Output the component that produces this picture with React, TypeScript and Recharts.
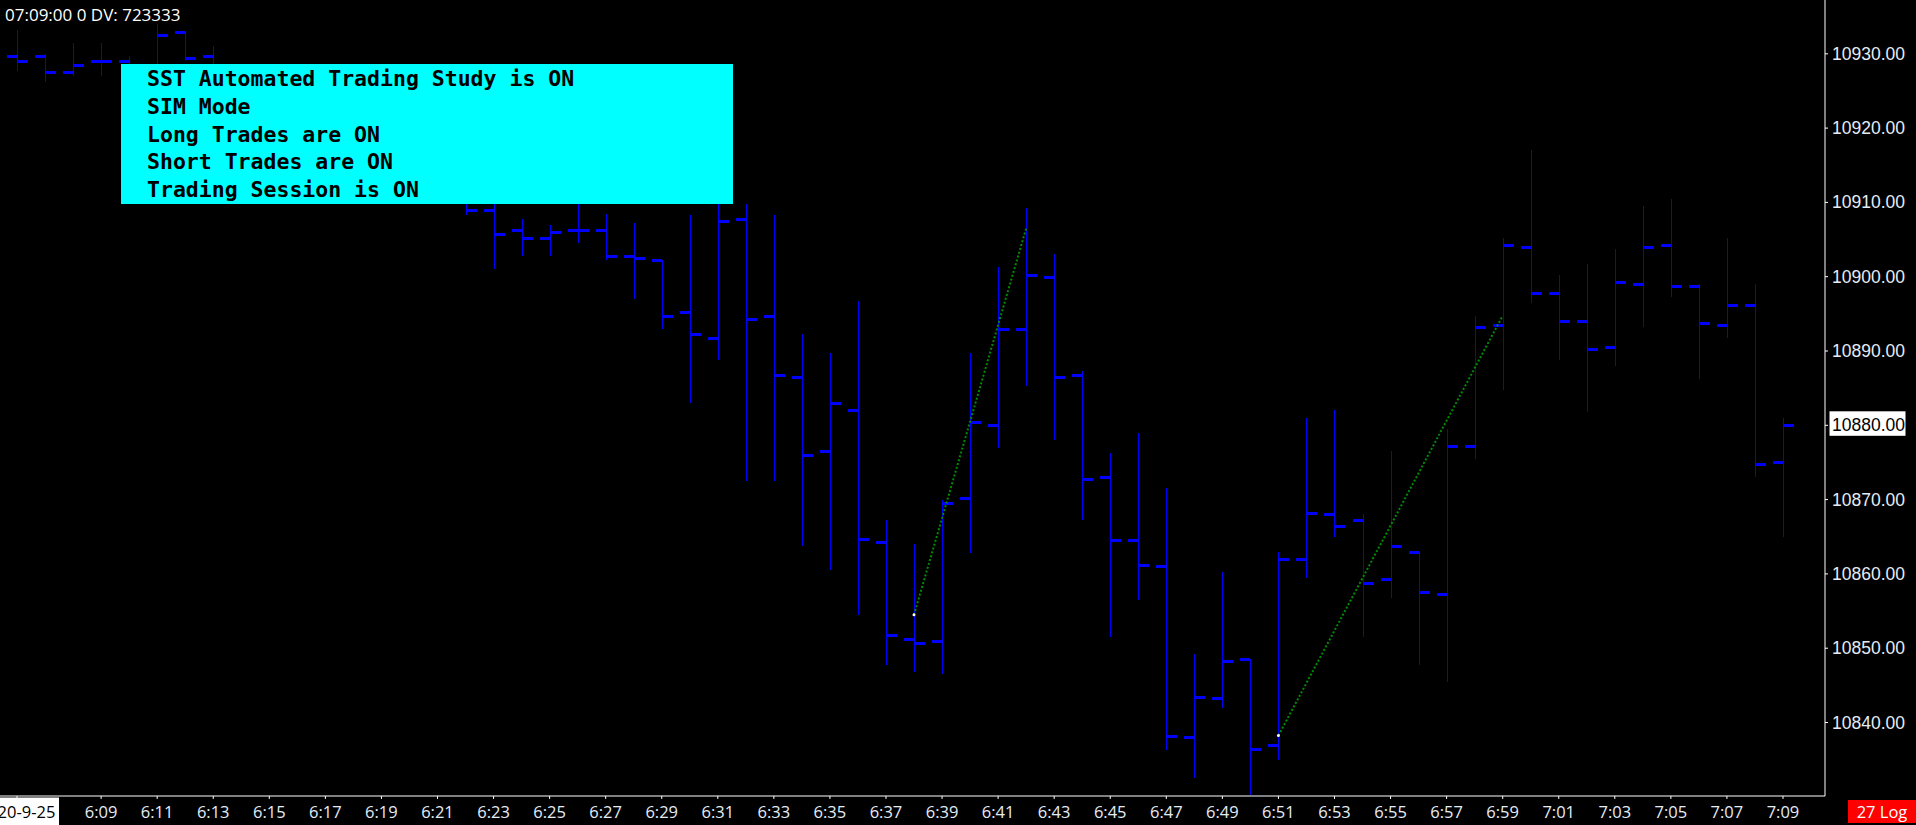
import { ComposedChart, Bar, XAxis, YAxis, ReferenceLine, ReferenceDot } from "recharts";

// 1-minute bars, 6:06 .. 7:09 (bars 6:14-6:21 sit behind the status box)
const times = [
  "6:06", "6:07", "6:08", "6:09", "6:10", "6:11", "6:12", "6:13", "6:14", "6:15",
  "6:16", "6:17", "6:18", "6:19", "6:20", "6:21", "6:22", "6:23", "6:24", "6:25",
  "6:26", "6:27", "6:28", "6:29", "6:30", "6:31", "6:32", "6:33", "6:34", "6:35",
  "6:36", "6:37", "6:38", "6:39", "6:40", "6:41", "6:42", "6:43", "6:44", "6:45",
  "6:46", "6:47", "6:48", "6:49", "6:50", "6:51", "6:52", "6:53", "6:54", "6:55",
  "6:56", "6:57", "6:58", "6:59", "7:00", "7:01", "7:02", "7:03", "7:04", "7:05",
  "7:06", "7:07", "7:08", "7:09",
];

const opens = [
  10929.75, 10929.75, 10927.5, 10929.0, 10929.0, 10927.5, 10933.0, 10929.75, 10925.5, 10923.0,
  10920.5, 10921.5, 10918.5, 10915.75, 10913.5, 10912.0, 10911.0, 10909.0, 10906.25, 10905.25,
  10906.25, 10906.25, 10902.75, 10902.25, 10895.25, 10891.75, 10907.75, 10894.75, 10886.5, 10876.5,
  10882.0, 10864.25, 10851.25, 10851.0, 10870.25, 10880.0, 10893.0, 10900.0, 10886.75, 10873.0,
  10864.5, 10861.0, 10838.0, 10843.25, 10848.5, 10837.0, 10862.0, 10868.0, 10867.25, 10859.25,
  10863.0, 10857.25, 10877.25, 10893.5, 10904.0, 10897.75, 10894.0, 10890.5, 10899.0, 10904.25,
  10898.75, 10893.5, 10896.25, 10875.0,
];

const highs = [
  10933.25, 10930.0, 10931.5, 10931.5, 10929.75, 10934.0, 10933.0, 10931.0, 10927.5, 10925.0,
  10923.0, 10924.0, 10920.5, 10918.0, 10916.0, 10914.5, 10912.0, 10910.5, 10907.75, 10907.0,
  10910.5, 10908.5, 10907.25, 10902.25, 10908.25, 10910.25, 10909.75, 10908.25, 10892.25, 10889.75,
  10896.75, 10867.25, 10864.0, 10870.0, 10889.75, 10901.25, 10909.25, 10903.0, 10887.25, 10876.25,
  10879.0, 10871.5, 10849.25, 10860.25, 10848.5, 10863.0, 10881.0, 10882.0, 10868.0, 10876.5,
  10863.0, 10879.5, 10894.75, 10905.25, 10917.0, 10900.25, 10901.75, 10903.75, 10909.5, 10910.5,
  10899.0, 10905.25, 10899.0, 10881.0,
];

const lows = [
  10927.75, 10926.25, 10927.0, 10927.0, 10926.5, 10927.0, 10929.0, 10924.5, 10922.0, 10919.5,
  10918.0, 10917.5, 10914.5, 10912.5, 10911.0, 10910.25, 10908.25, 10901.0, 10902.75, 10902.75,
  10904.5, 10902.25, 10897.0, 10893.0, 10883.0, 10888.75, 10872.5, 10872.5, 10863.75, 10860.5,
  10854.5, 10847.75, 10846.75, 10846.5, 10862.75, 10877.0, 10885.25, 10878.0, 10867.25, 10851.5,
  10856.5, 10836.25, 10832.5, 10842.0, 10830.25, 10835.0, 10859.5, 10865.0, 10851.5, 10856.75,
  10847.75, 10845.5, 10875.5, 10884.75, 10896.5, 10888.75, 10881.75, 10888.0, 10893.25, 10897.25,
  10886.25, 10891.75, 10873.0, 10865.0,
];

const closes = [
  10929.0, 10927.5, 10928.5, 10929.0, 10927.5, 10932.5, 10929.5, 10925.5, 10923.0, 10920.5,
  10921.5, 10918.5, 10915.75, 10913.5, 10912.0, 10911.0, 10909.0, 10905.75, 10905.25, 10906.0,
  10906.25, 10902.75, 10902.5, 10894.75, 10892.25, 10907.5, 10894.25, 10886.75, 10876.0, 10883.0,
  10864.75, 10851.75, 10850.75, 10869.5, 10880.5, 10893.0, 10900.25, 10886.5, 10872.75, 10864.5,
  10861.25, 10838.25, 10843.5, 10848.25, 10836.5, 10862.0, 10868.25, 10866.5, 10858.75, 10863.75,
  10857.5, 10877.25, 10893.25, 10904.25, 10897.75, 10894.0, 10890.25, 10899.25, 10904.0, 10898.75,
  10893.75, 10896.25, 10874.75, 10880.0,
];

const timeTicks = [
  "6:06", "6:09", "6:11", "6:13", "6:15", "6:17", "6:19", "6:21", "6:23", "6:25", "6:27",
  "6:29", "6:31", "6:33", "6:35", "6:37", "6:39", "6:41", "6:43", "6:45", "6:47", "6:49",
  "6:51", "6:53", "6:55", "6:57", "6:59", "7:01", "7:03", "7:05", "7:07", "7:09",
];
const dateLabel = "2020-9-25";
const priceTicks = [10840, 10850, 10860, 10870, 10880, 10890, 10900, 10910, 10920, 10930];
const lastPrice = 10880;

// trade lines (entry -> exit)
const longTrade1 = [{ x: "6:38", y: 10854.5 }, { x: "6:42", y: 10906.5 }];
const longTrade2 = [{ x: "6:51", y: 10838.25 }, { x: "6:59", y: 10894.75 }];

const statusLines = [
  "SST Automated Trading Study is ON",
  "SIM Mode",
  "Long Trades are ON",
  "Short Trades are ON",
  "Trading Session is ON",
];
const headerText = "07:09:00 0 DV: 723333";

const rows = times.map((t, i) => ({
  t,
  o: opens[i],
  h: highs[i],
  l: lows[i],
  c: closes[i],
  range: [lows[i], highs[i]],
}));

const BLUE = "#0000ff";
const LABEL = "#e4ecf6";

function OhlcBar(props: any) {
  const { x, y, width, height, payload } = props;
  if (x == null || y == null || !payload) return null;
  const top = Math.min(y, y + height);
  const h = Math.abs(height);
  const span = payload.h - payload.l;
  const toY = (v: number) => (span === 0 ? top : top + ((payload.h - v) / span) * h);
  const cx = Math.round(x + width / 2);
  const yo = Math.round(toY(payload.o));
  const yc = Math.round(toY(payload.c));
  return (
    <g shapeRendering="crispEdges">
      <rect x={cx} y={top} width={1} height={Math.max(h, 1)} fill={BLUE} />
      <rect x={cx - 10} y={yo - 1} width={10} height={3} fill={BLUE} />
      <rect x={cx} y={yc - 1} width={11} height={3} fill={BLUE} />
    </g>
  );
}

function TimeTick(props: any) {
  const { x, y, payload } = props;
  if (payload.value === times[0]) {
    return (
      <g>
        <rect x={x - 42} y={y - 1.5} width={84} height={28} fill="#ffffff" />
        <text x={x} y={y} dy={19} textAnchor="middle" fill="#000" fontSize={16.5} fontFamily="'Open Sans', sans-serif">
          {dateLabel}
        </text>
      </g>
    );
  }
  return (
    <text x={x} y={y} dy={19} textAnchor="middle" fill={LABEL} fontSize={16.5} fontFamily="'Open Sans', sans-serif">
      {payload.value}
    </text>
  );
}

function PriceTick(props: any) {
  const { x, y, payload } = props;
  const isLast = payload.value === lastPrice;
  return (
    <g>
      {isLast && <rect x={x - 2.5} y={y - 14} width={76} height={24.5} fill="#ffffff" />}
      <text x={x} y={y} dy={6} textAnchor="start" fill={isLast ? "#000" : LABEL} fontSize={17.5} fontFamily="'Liberation Sans', Arial, sans-serif">
        {payload.value.toFixed(2)}
      </text>
    </g>
  );
}

export default function App() {
  return (
    <div style={{ position: "fixed", left: 0, top: 0, width: 1916, height: 825, background: "#000", overflow: "hidden" }}>
      <ComposedChart width={1916} height={825} data={rows} margin={{ top: 0, right: 0, left: 0, bottom: 0 }}>
        <XAxis
          dataKey="t"
          type="category"
          ticks={timeTicks}
          interval={0}
          height={29}
          padding={{ left: 3, right: 28 }}
          axisLine={{ stroke: "#ffffff" }}
          tickLine={{ stroke: "#ffffff" }}
          tickSize={3}
          tickMargin={0}
          tick={<TimeTick />}
        />
        <YAxis
          orientation="right"
          type="number"
          width={91}
          domain={[10830.11, 10937.24]}
          allowDataOverflow
          ticks={priceTicks}
          axisLine={{ stroke: "#ffffff" }}
          tickLine={{ stroke: "#ffffff" }}
          tickSize={3}
          tickMargin={4}
          tick={<PriceTick />}
        />
        <Bar dataKey="range" barSize={22} shape={<OhlcBar />} isAnimationActive={false} />
        <ReferenceLine segment={longTrade1} stroke="#008c00" strokeWidth={2} strokeDasharray="2 2" ifOverflow="visible" />
        <ReferenceLine segment={longTrade2} stroke="#008c00" strokeWidth={2} strokeDasharray="2 2" ifOverflow="visible" />
        <ReferenceDot x={longTrade1[0].x} y={longTrade1[0].y} r={1.5} fill="#ffffff" stroke="none" />
        <ReferenceDot x={longTrade2[0].x} y={longTrade2[0].y} r={1.5} fill="#ffffff" stroke="none" />
      </ComposedChart>

      <div style={{ position: "absolute", left: 5, top: 2.5, color: "#ffffff", fontFamily: "'Open Sans', sans-serif", fontSize: 17, whiteSpace: "nowrap" }}>
        {headerText}
      </div>

      <div
        style={{
          position: "absolute",
          left: 121,
          top: 64,
          width: 612,
          height: 140,
          boxSizing: "border-box",
          paddingLeft: 26,
          paddingTop: 1.4,
          background: "#00ffff",
          color: "#000",
          fontFamily: "'DejaVu Sans Mono', monospace",
          fontWeight: "bold",
          fontSize: 21.5,
          lineHeight: "27.65px",
          whiteSpace: "pre",
        }}
      >
        {statusLines.map((s) => (
          <div key={s}>{s}</div>
        ))}
      </div>

      <div
        style={{
          position: "absolute",
          left: 1848,
          top: 800,
          width: 68,
          height: 23,
          background: "#ff0000",
          color: "#ffffff",
          fontFamily: "'Open Sans', sans-serif",
          fontSize: 16.5,
          lineHeight: "23px",
          textAlign: "center",
        }}
      >
        27 Log
      </div>
    </div>
  );
}
